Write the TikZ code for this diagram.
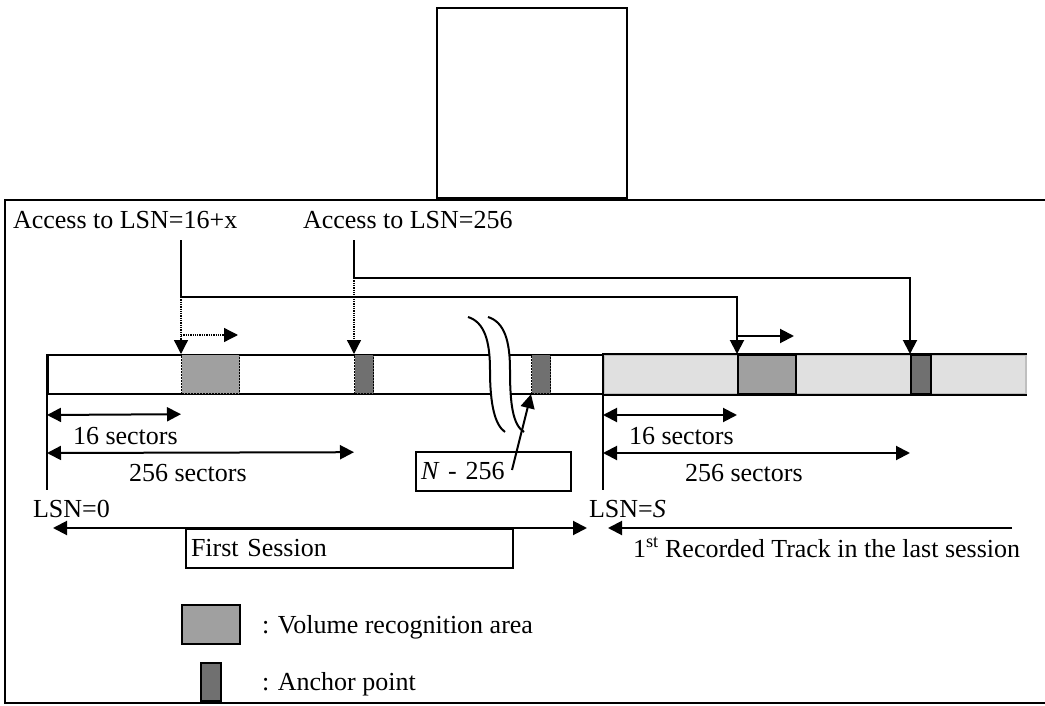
\documentclass[tikz,border=0pt]{standalone}
\usepackage{fontspec}
\setmainfont{Liberation Serif}
\usetikzlibrary{arrows.meta,positioning}
\definecolor{vragray}{RGB}{160,160,160}
\definecolor{anchorgray}{RGB}{112,112,112}
\definecolor{trackgray}{RGB}{224,224,224}
\tikzset{
  lbl/.style = {inner sep=0pt, anchor=base west, font=\fontsize{26}{30}\selectfont},
  blk/.style = {inner sep=0pt, anchor=north west, draw=black, line width=2pt},
  vra/.style = {blk, fill=vragray, minimum width=58pt, minimum height=39pt},% volume recognition area
  apt/.style = {blk, fill=anchorgray, minimum width=19pt, minimum height=39pt},% anchor point
  txtbox/.style = {blk, inner xsep=5pt, minimum height=39pt, align=left,
    font=\fontsize{26}{30}\selectfont},
  dotln/.style = {densely dotted, line width=1.3pt},
  arr/.style = {-{Triangle[length=14pt,width=14pt]}},
  dimarr/.style = {{Triangle[length=14pt,width=14pt]}-{Triangle[length=14pt,width=14pt]}},
}

\begin{document}
\begin{tikzpicture}[x=1pt, y=-1pt, line width=2pt]
\useasboundingbox (0,0) rectangle (1045,706);
% frame and the empty box above it
\draw[line width=2.4pt] (1060,200) -| (5,703) -- (1060,703);
\node[blk, line width=2.4pt, minimum width=190pt, minimum height=190pt] (topbox) at (436,7) {};

% the two sessions
\node[blk, minimum width=556pt, minimum height=39pt] (sessA) at (47,354) {};
\node[blk, fill=trackgray, draw=black!25, minimum width=422pt, minimum height=39pt] (sessB) at (603,354) {};
\draw (sessB.north east) -- (sessB.north west) -- (sessB.south west) -- (sessB.south east);
\node[vra, dash pattern=on 2pt off 1pt, line width=1.2pt] (vraA) at (181,354) {};
\node[apt, dash pattern=on 2pt off 1pt, line width=1.2pt] (aptA) at (354,354) {};
\node[apt, dash pattern=on 2pt off 1pt, line width=1.2pt] (aptN) at (531,354) {};
\node[vra] (vraB) at (737,354) {};
\node[apt, minimum width=20pt] (aptB) at (910,354) {};

% break in the first session
\fill[white] (468,317) .. controls (484,322) and (490,340) .. (490,370)
  .. controls (490,405) and (495,425) .. (505,432) -- (524,432)
  .. controls (513,425) and (510,405) .. (510,370)
  .. controls (510,340) and (504,322) .. (488,317) -- cycle;
\draw (468,317) .. controls (484,322) and (490,340) .. (490,370)
  .. controls (490,405) and (495,425) .. (505,432);
\draw (488,317) .. controls (504,322) and (510,340) .. (510,370)
  .. controls (510,405) and (513,425) .. (524,432);

% accesses
\node[lbl] (accA) at (12,229) {Access to LSN=16+x};
\node[lbl] (accB) at (302,229) {Access to LSN=256};
\draw[arr] (vraA.north west |- 0,240) -- (vraA.north west |- 0,297) -| (vraB.north west);
\draw[arr] (aptA.north west |- 0,240) -- (aptA.north west |- 0,278) -| (aptB.north west);
\draw[dotln, arr] (vraA.north west |- 0,297) -- (vraA.north west);
\draw[dotln, arr] (aptA.north west |- 0,278) -- (aptA.north west);
\draw[dotln, arr] (vraA.north west |- 0,335) -- ++(57,0);
\draw[arr] (vraB.north west |- 0,336) -- ++(57,0);

% sectors
\foreach \s/\v/\p in {sessA/vraA/aptA, sessB/vraB/aptB}{
  \draw[dimarr] ([yshift=-20pt]\s.south west) -- ([yshift=-20pt]\v.south west);
  \draw[dimarr] ([yshift=-58pt]\s.south west) -- ([yshift=-58pt]\p.south west);
  \draw (\s.north west) -- ([yshift=-95pt]\s.south west);
  \node[lbl] (sixteen\s) at ([xshift=25pt,yshift=-49pt]\s.south west) {16 sectors};
  \node[lbl] (twofive\s) at ([xshift=81pt,yshift=-86pt]\s.south west) {256 sectors};
}
\node[txtbox, text width=145pt] (nbox) at (415,451) {\textit{N} - 256};
\coordinate (nfoot) at (512,470);
\draw[arr] (nfoot) -- (aptN.south west);

% session labels
\node[lbl] (lsnA) at (32,517) {LSN=0};
\node[lbl] (lsnB) at (588,517) {LSN=\textit{S}};
\node[txtbox, text width=317pt] (first) at (185,528) {First Session};
\draw[dimarr] (53,528) -- (587,528);
\coordinate (trackend) at (1012,528);
\draw[arr] (trackend) -- (608,528);
\node[lbl] (track) at (632,557) {1\textsuperscript{st} Recorded Track in the last session};

% legend
\node[vra, line width=2.4pt] (legV) at (181,604) {};
\node[apt, line width=2.4pt, minimum width=20pt, minimum height=38pt] (legA) at (200,662) {};
\node[lbl] (legVt) at (261,633) {: Volume recognition area};
\node[lbl] (legAt) at (261,690) {: Anchor point};
\end{tikzpicture}
\end{document}
